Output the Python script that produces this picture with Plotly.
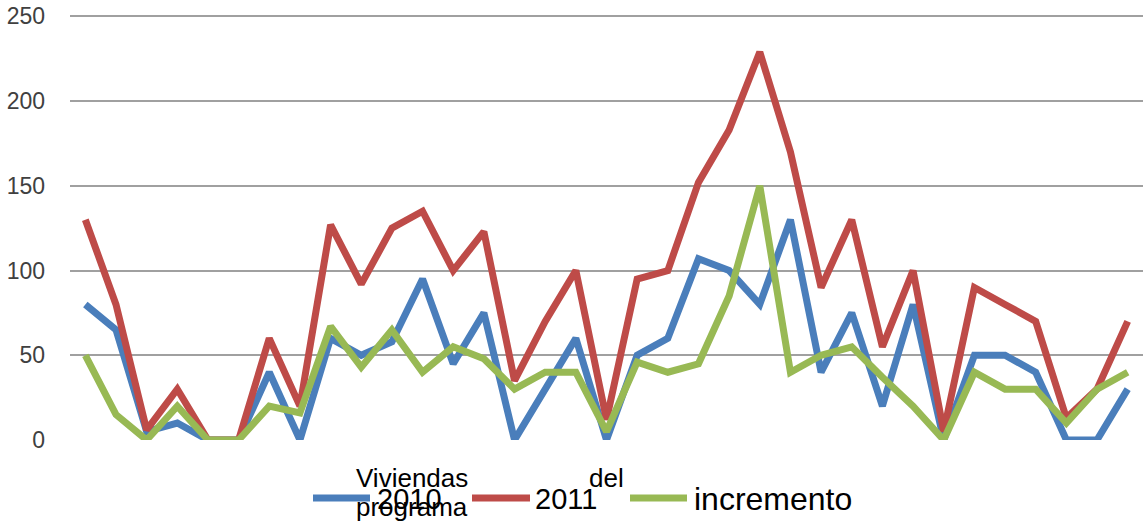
import plotly.graph_objects as go

# ---- data ----
categories = [1, 2, 3, 4, 5, 6, 7, 8, 9, 10, 11, 12, 13, 14, 15, 16, 17, 18,
              19, 20, 21, 22, 23, 24, 25, 26, 27, 28, 29, 30, 31, 32, 33, 34, 35]
serie_2010 = [80, 65, 5, 10, 0, 0, 40, 0, 60, 50, 58, 95, 45, 75, 0, 30, 60, 0,
              50, 60, 107, 100, 80, 130, 40, 75, 20, 80, 0, 50, 50, 40, 0, 0, 30]
serie_2011 = [130, 80, 6, 30, 0, 0, 60, 20, 127, 92, 125, 135, 100, 123, 35, 70, 100, 12,
              95, 100, 152, 183, 229, 170, 90, 130, 55, 100, 5, 90, 80, 70, 13, 30, 70]
serie_incr = [50, 15, 0, 20, 0, 0, 20, 16, 67, 43, 65, 40, 55, 48, 30, 40, 40, 5,
              46, 40, 45, 85, 150, 40, 50, 55, 37, 20, 0, 40, 30, 30, 10, 30, 40]
series_names = ["2010", "2011", "incremento"]
series_colors = ["#4a7ebb", "#be4b48", "#98b954"]
y_ticks = [0, 50, 100, 150, 200, 250]

# the page body margin is removed by a post script, so page px == figure px
OFF = 0
W, H = 1143, 525
Y_MAX = 252.0                 # slightly above 250 so the top grid line is drawn
SCALE = 424.0 / 250.0         # px per unit in the reference
TOP_PAGE, BOTTOM_PAGE = 16, 440
ML, MR = 70 - OFF, OFF
MB = H - (BOTTOM_PAGE - OFF)
MT = (TOP_PAGE - OFF) - (Y_MAX - 250.0) * SCALE
PW, PH = W - ML - MR, H - MT - MB


def px_x(p):
    return (p - OFF - ML) / PW


def px_y(p):
    return (H - MB - (p - OFF)) / PH


fig = go.Figure()
for name, vals, col in zip(series_names, [serie_2010, serie_2011, serie_incr], series_colors):
    fig.add_trace(go.Scatter(
        x=categories, y=vals, mode="lines", name=name,
        line=dict(color=col, width=7), showlegend=False,
    ))

# manual legend (line samples + labels)
legend_items = [
    (313, 370, 375, series_colors[0], series_names[0], 29),
    (472, 530, 533, series_colors[1], series_names[1], 29),
    (630, 687, 692, series_colors[2], series_names[2], 32),
]
shapes = []
annotations = []
for x0, x1, tx, col, txt, fs in legend_items:
    shapes.append(dict(type="line", xref="paper", yref="paper",
                       x0=px_x(x0), x1=px_x(x1), y0=px_y(498), y1=px_y(498),
                       line=dict(color=col, width=7)))
    annotations.append(dict(xref="paper", yref="paper", x=px_x(tx), y=px_y(499),
                            xanchor="left", yanchor="middle", showarrow=False,
                            text=txt, font=dict(family="Liberation Sans, Arial", size=fs, color="#000000")))

# overlapping axis title words
for txt, x, y in [("Viviendas", 354, 478), ("del", 587, 478), ("programa", 354, 507)]:
    annotations.append(dict(xref="paper", yref="paper", x=px_x(x), y=px_y(y),
                            xanchor="left", yanchor="middle", showarrow=False,
                            text=txt, font=dict(family="Liberation Sans, Arial", size=26, color="#000000")))

fig.update_layout(
    width=W, height=H,
    margin=dict(l=ML, r=MR, t=MT, b=MB, pad=0, autoexpand=False),
    paper_bgcolor="white", plot_bgcolor="white",
    shapes=shapes, annotations=annotations,
    showlegend=False,
    xaxis=dict(range=[0.5, 35.5], showticklabels=False, showgrid=False, automargin=False,
               zeroline=False, showline=False, ticks=""),
    yaxis=dict(range=[0, Y_MAX], tickvals=y_ticks, showgrid=True, automargin=False,
               gridcolor="#a0a0a0", gridwidth=1.5, zeroline=False, showline=False,
               ticks="", ticklabelstandoff=24, ticklabeloverflow="allow",
               tickfont=dict(family="Liberation Sans, Arial", size=23, color="#404040")),
)

fig.write_html("out.html", config={"displayModeBar": False},
               post_script="document.body.style.margin='0px';")
